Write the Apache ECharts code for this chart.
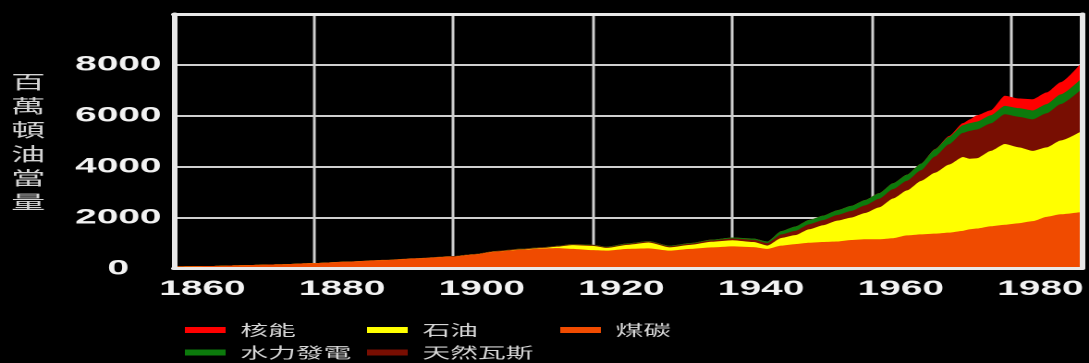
<!DOCTYPE html>
<html>
<head>
<meta charset="utf-8">
<title>世界能源消耗</title>
<script src="https://cdn.jsdelivr.net/npm/echarts@6/dist/echarts.min.js"></script>
<style>
  html, body { margin: 0; padding: 0; background: #000; overflow: hidden; }
  /* the source picture is stretched sideways, so draw narrow and widen */
  #chart { width: 589px; height: 363px; transform: scaleX(1.8489); transform-origin: 0 0; }
</style>
</head>
<body>
<div id="chart"></div>
<script>
// 年份
const years = [
  1860, 1865, 1870, 1875, 1880, 1885, 1890, 1895,
  1900, 1903, 1906, 1910, 1913, 1915, 1917,
  1920, 1922, 1925, 1928, 1931, 1934, 1937,
  1940, 1943, 1945, 1947, 1949, 1951, 1953, 1955, 1957, 1959,
  1961, 1963, 1965, 1967, 1969, 1971, 1973, 1974, 1975, 1977, 1979,
  1981, 1983, 1985, 1987, 1990
]

// 各能源 (百萬頓油當量)
const coal = [
  80, 100, 130, 160, 210, 270, 330, 400,
  470, 550, 660, 740, 790, 800, 770,
  720, 700, 770, 790, 700, 770, 830,
  870, 840, 770, 900, 960, 1010, 1040, 1060, 1120, 1150,
  1150, 1190, 1300, 1340, 1370, 1410, 1480, 1540, 1570, 1660, 1720,
  1780, 1860, 2030, 2130, 2220
]
const oil = [
  0, 0, 0, 0, 0, 0, 0, 0,
  0, 0, 5, 10, 20, 60, 150,
  170, 110, 160, 230, 130, 160, 220,
  240, 200, 130, 300, 350, 530, 660, 820, 880, 1030,
  1250, 1560, 1770, 2100, 2390, 2670, 2900, 2770, 2760, 2960, 3170,
  2980, 2760, 2730, 2900, 3180
]
const gas = [
  0, 0, 0, 0, 0, 5, 10, 10,
  15, 15, 20, 25, 25, 25, 30,
  30, 30, 35, 40, 40, 45, 55,
  70, 90, 100, 140, 170, 200, 200, 220, 260, 300,
  340, 370, 380, 420, 640, 800, 950, 1100, 1130, 1080, 1170,
  1200, 1240, 1340, 1430, 1650
]
const hydro = [
  0, 0, 0, 0, 0, 0, 0, 0,
  5, 5, 5, 10, 10, 10, 15,
  15, 15, 20, 20, 25, 25, 30,
  40, 50, 60, 130, 170, 170, 180, 190, 200, 210,
  220, 230, 240, 260, 280, 290, 300, 300, 310, 320, 330,
  340, 350, 360, 380, 420
]
const nuclear = [
  0, 0, 0, 0, 0, 0, 0, 0,
  0, 0, 0, 0, 0, 0, 0,
  0, 0, 0, 0, 0, 0, 0,
  0, 0, 0, 0, 0, 0, 0, 0, 0, 0,
  0, 0, 0, 0, 10, 30, 80, 150, 250, 200, 400,
  380, 440, 460, 480, 620
]

// 由下而上的堆疊順序
const layers = [
  { name: '煤碳', values: coal, color: '#f04b00' },
  { name: '石油', values: oil, color: '#ffff00' },
  { name: '天然瓦斯', values: gas, color: '#780e02' },
  { name: '水力發電', values: hydro, color: '#0c7a0c' },
  { name: '核能', values: nuclear, color: '#ff0000' }
]

const chart = echarts.init(document.getElementById('chart'), null, { devicePixelRatio: 2 })

// running totals, then draw the highest band first so lower ones cover it
const running = years.map(() => 0)
const series = layers.map(layer => {
  const data = years.map((y, i) => {
    running[i] += layer.values[i]
    return [y, running[i]]
  })
  return {
    name: layer.name,
    type: 'line',
    data,
    showSymbol: false,
    smooth: 0.2,
    smoothMonotone: 'x',
    itemStyle: { color: layer.color },
    lineStyle: { width: 0, color: layer.color },
    areaStyle: { color: layer.color, opacity: 1 }
  }
}).reverse()

const frameLine = { show: true, onZero: false, lineStyle: { color: '#e8e8e8', width: 3 } }
const frameAxis = {
  type: 'value', z: 10,
  axisLine: frameLine,
  axisTick: { show: false },
  axisLabel: { show: false },
  splitLine: { show: false }
}
const labelFont = {
  fontFamily: 'Liberation Sans', fontWeight: 'bold', fontSize: 21, color: '#f2f2f2',
  formatter: v => String(v)
}
const legendText = { fontFamily: 'Noto Sans CJK TC', fontSize: 15, lineHeight: 15, color: '#d6d6d6', padding: [0, 0, 0, 3] }
const legendBase = {
  orient: 'vertical', top: 322.5, itemWidth: 22, itemHeight: 6, itemGap: 7.5,
  icon: 'rect', selectedMode: false, padding: 0, textStyle: legendText
}

const option = {
  backgroundColor: '#000',
  animation: false,
  title: {
    text: '百\n萬\n頓\n油\n當\n量',
    left: 6, top: 70, padding: 0,
    textStyle: { fontFamily: 'Noto Sans CJK TC', fontSize: 18.5, lineHeight: 24, fontWeight: 'normal', color: '#d4d4d4' }
  },
  legend: [
    Object.assign({ left: 100, data: ['核能', '水力發電'] }, legendBase),
    Object.assign({ left: 198.5, data: ['石油', '天然瓦斯'] }, legendBase),
    Object.assign({ left: 303, data: ['煤碳'] }, legendBase)
  ],
  grid: { left: 94, right: 4, top: 14, bottom: 94.5, outerBoundsMode: 'none' },
  xAxis: [
    {
      type: 'value', min: 1860, max: 1990, interval: 20,
      axisLine: { show: false },
      axisTick: { show: false },
      axisLabel: Object.assign({ margin: 10, align: 'center', padding: [0, 0, 0, 31], showMaxLabel: false }, labelFont),
      splitLine: { show: true, lineStyle: { color: '#cfcfcf', width: 1.5 } }
    },
    Object.assign({ position: 'bottom', min: 1860, max: 1990 }, frameAxis),
    Object.assign({ position: 'top', min: 1860, max: 1990 }, frameAxis)
  ],
  yAxis: [
    {
      type: 'value', min: 0, max: 10000, interval: 2000,
      axisLine: { show: false },
      axisTick: { show: false },
      axisLabel: Object.assign({ margin: 30, align: 'center', verticalAlign: 'middle', padding: [0, 0, 12, 0], showMaxLabel: false }, labelFont),
      splitLine: { show: true, lineStyle: { color: '#cfcfcf', width: 2 } }
    },
    Object.assign({ position: 'left', min: 0, max: 10000 }, frameAxis),
    Object.assign({ position: 'right', min: 0, max: 10000 }, frameAxis)
  ],
  series
}

chart.setOption(option)
</script>
</body>
</html>
